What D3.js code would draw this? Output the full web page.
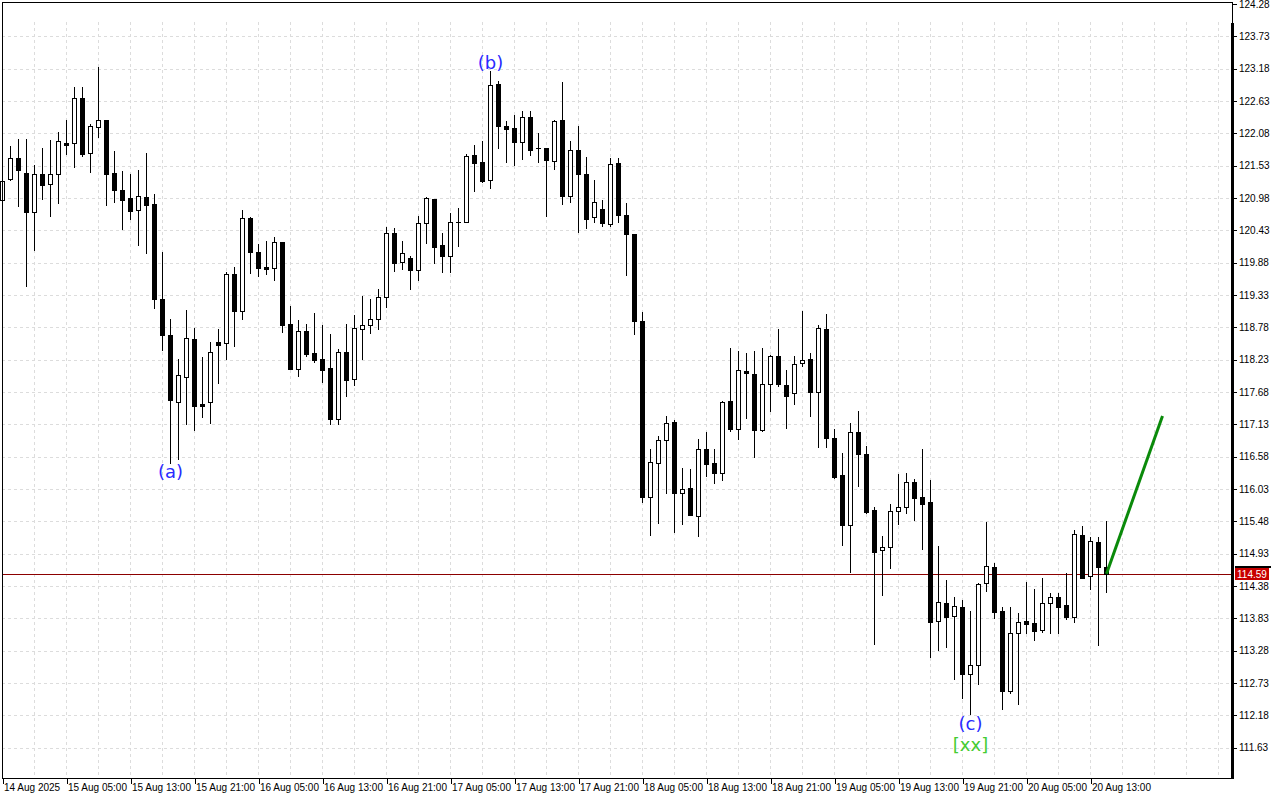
<!DOCTYPE html>
<html><head><meta charset="utf-8">
<script src="https://cdn.jsdelivr.net/npm/d3@7"></script>
<style>
html,body{margin:0;padding:0;background:#fff;}
svg{display:block;}
text{font-family:"Liberation Sans",Arial,sans-serif;}
</style>
</head><body>
<svg id="chart" width="1280" height="800"></svg>
<script>
// ---- data (1H bars) ----
const opens = [120.95,121.30,121.66,121.41,120.74,121.39,121.22,121.39,121.92,121.92,
122.68,121.75,122.19,122.31,121.41,121.12,120.98,120.78,121.00,120.88,
119.26,118.65,117.51,117.94,118.58,117.48,117.51,118.53,118.51,119.69,
119.06,120.64,120.06,119.80,119.79,120.23,118.84,118.07,118.72,118.34,
118.24,118.09,117.22,118.36,117.90,118.75,118.82,118.92,119.30,120.38,
119.89,119.96,119.76,120.55,120.96,120.18,120.00,120.57,120.57,121.71,
121.59,121.29,122.92,122.20,122.17,121.93,122.36,121.83,121.83,121.61,
122.31,121.01,121.80,121.39,120.66,120.79,120.54,121.58,120.69,120.37,
118.89,115.89,116.47,116.86,117.17,115.96,116.05,115.57,116.71,116.47,
116.30,117.53,117.05,118.04,117.99,117.03,117.82,118.29,117.80,117.66,
118.17,118.24,117.68,118.75,116.90,116.27,115.42,117.00,116.62,115.67,
114.99,115.04,115.66,115.72,116.15,115.89,115.81,113.78,114.09,113.87,
114.02,112.88,113.04,114.43,114.70,113.95,112.59,113.58,113.78,113.75,
113.63,114.09,114.19,114.06,113.85,115.25,114.55,115.13,114.70];
const highs = [121.37,121.87,121.98,121.98,121.54,121.83,121.97,122.10,122.31,122.87,
122.87,122.24,123.21,122.31,121.78,121.44,121.39,121.46,121.75,121.05,
120.06,118.92,118.24,119.08,118.77,118.27,118.53,118.75,119.72,119.80,
120.78,120.66,120.20,120.25,120.32,120.23,119.14,118.90,118.84,119.02,
118.82,118.67,118.41,118.84,118.99,119.31,119.26,119.43,120.49,120.47,
120.25,120.00,120.67,121.00,120.96,120.38,120.72,120.81,121.73,121.88,
121.95,123.14,122.97,122.29,122.39,122.46,122.46,122.09,121.83,122.31,
122.95,121.95,122.20,121.68,121.29,120.95,121.66,121.66,120.89,120.37,
119.04,116.71,116.93,117.27,117.20,116.39,116.37,116.88,117.00,116.71,
117.53,118.43,118.38,118.34,118.38,118.43,118.31,118.75,118.05,118.29,
119.06,118.34,118.82,119.01,117.05,116.64,117.15,117.36,116.76,115.72,
115.23,115.78,116.29,116.30,116.20,116.71,116.18,115.06,114.48,114.19,
114.14,113.95,114.43,115.47,114.77,114.02,114.02,113.92,114.45,114.33,
114.52,114.26,114.26,114.60,115.33,115.40,115.21,115.21,115.49];
const lows = [120.91,121.29,120.84,119.48,120.10,120.96,120.67,120.90,121.73,121.51,
121.70,121.42,122.02,120.86,120.91,120.45,120.62,120.18,120.05,119.11,
118.40,116.47,116.54,117.14,117.03,117.26,117.15,117.83,118.24,118.46,
118.92,119.70,119.65,119.69,119.59,118.70,118.07,117.95,118.29,118.19,
117.85,117.14,117.14,117.61,117.80,118.24,118.68,118.75,119.13,119.74,
119.77,119.43,119.59,120.22,119.87,119.72,119.72,120.16,120.57,121.10,
121.25,121.15,121.83,121.59,121.54,121.64,121.71,121.59,120.67,121.47,
120.88,120.91,120.40,120.47,120.57,120.50,120.50,120.57,119.67,118.67,
115.81,115.25,115.45,115.96,115.30,115.43,115.59,115.23,116.25,116.13,
116.18,117.02,116.88,117.24,116.57,117.02,117.36,117.78,117.07,117.48,
118.12,117.27,116.74,116.74,116.22,115.08,114.62,116.08,115.62,113.39,
114.23,114.69,115.43,115.62,115.50,115.01,113.17,113.29,113.34,112.80,
112.48,112.20,112.71,114.30,113.84,112.29,112.56,112.37,113.58,113.46,
113.60,113.58,113.58,113.82,113.77,114.52,114.33,113.38,114.28];
const closes = [121.27,121.66,121.46,120.74,121.39,121.20,121.39,121.95,121.88,122.68,
121.73,122.21,122.31,121.39,121.12,120.95,120.76,121.01,120.86,119.26,
118.65,117.54,117.97,118.60,117.44,117.44,118.36,118.48,119.69,119.06,
120.64,120.06,119.79,119.77,120.23,118.82,118.07,118.72,118.33,118.22,
118.05,117.22,118.36,117.88,118.77,118.82,118.92,119.30,120.38,119.87,
120.05,119.76,120.55,120.98,120.15,120.00,120.57,120.57,121.70,121.58,
121.27,122.90,122.20,122.15,121.93,122.36,121.80,121.83,121.63,122.29,
121.01,121.80,121.39,120.62,120.91,120.55,121.56,120.69,120.37,118.89,
115.89,116.49,116.86,117.15,115.96,116.03,115.59,116.71,116.45,116.30,
117.51,117.05,118.05,118.00,117.03,117.82,118.29,117.82,117.61,118.16,
118.22,117.68,118.77,116.90,116.23,115.42,117.00,116.62,115.64,114.96,
115.04,115.66,115.72,116.15,115.88,115.77,113.77,114.11,113.85,114.04,
112.88,113.04,114.41,114.72,113.94,112.59,113.58,113.77,113.73,113.61,
114.09,114.19,114.02,113.85,115.27,114.52,115.15,114.70,114.59];

const timeLabels = ["14 Aug 2025","15 Aug 05:00","15 Aug 13:00","15 Aug 21:00","16 Aug 05:00",
"16 Aug 13:00","16 Aug 21:00","17 Aug 05:00","17 Aug 13:00","17 Aug 21:00","18 Aug 05:00",
"18 Aug 13:00","18 Aug 21:00","19 Aug 05:00","19 Aug 13:00","19 Aug 21:00","20 Aug 05:00","20 Aug 13:00"];
const timeLabelBars = [0,8,16,24,32,40,48,56,64,72,80,88,96,104,112,120,128,136];
const priceTicks = [124.28,123.73,123.18,122.63,122.08,121.53,120.98,120.43,119.88,119.33,
118.78,118.23,117.68,117.13,116.58,116.03,115.48,114.93,114.38,113.83,113.28,112.73,112.18,111.63];
const lastPrice = 114.59;

// wave annotations: label, bar index, price level
const waveText  = ["(a)","(b)","(c)","[xx]"];
const waveBar   = [21, 61, 121, 121];
const wavePrice = [116.33, 123.29, 112.05, 111.69];

// forecast arrow: from bar/price to bar/price
const forecastBars   = [138, 145];
const forecastPrices = [114.59, 117.27];

// ---- layout ----
const svg = d3.select("#chart");
const plotL = 2, plotR = 1232, plotT = 2, plotB = 778;
const x = d3.scaleLinear().domain([0, 153]).range([2.5, 2.5 + 8*153]);
const y = d3.scaleLinear().domain([111.63, 124.28]).range([747.7, 4]);
const Y = p => Math.round(y(p));

svg.append("rect").attr("width",1280).attr("height",800).attr("fill","#fff");

// grid
const grid = svg.append("g").attr("shape-rendering","crispEdges");
grid.selectAll("line.h").data(priceTicks.slice(1)).join("line")
  .attr("x1", plotL).attr("x2", plotR)
  .attr("y1", d => Y(d)+0.5).attr("y2", d => Y(d)+0.5)
  .attr("stroke","#dcdcdc").attr("stroke-dasharray","3,3");
const vBars = d3.range(4, 154, 4);
grid.selectAll("line.v").data(vBars).join("line")
  .attr("x1", d => x(d)).attr("x2", d => x(d))
  .attr("y1", 22).attr("y2", plotB)
  .attr("stroke","#dcdcdc").attr("stroke-dasharray","3,3");

// current price line
svg.append("line").attr("x1",plotL).attr("x2",plotR)
  .attr("y1",Y(lastPrice)+0.5).attr("y2",Y(lastPrice)+0.5)
  .attr("stroke","#8c0000").attr("stroke-width",1).attr("shape-rendering","crispEdges");

// candles
const bars = d3.range(opens.length).map(i => ({i, o:opens[i], h:highs[i], l:lows[i], c:closes[i]}));
const cg = svg.append("g").attr("shape-rendering","crispEdges");
const cand = cg.selectAll("g").data(bars).join("g");
cand.append("line")
  .attr("x1", d => x(d.i)).attr("x2", d => x(d.i))
  .attr("y1", d => Y(d.h)).attr("y2", d => Y(d.l)+1)
  .attr("stroke","#000");
cand.each(function(d){
  const g = d3.select(this);
  const yo = Y(d.o), yc = Y(d.c);
  if (yo === yc) {
    g.append("line").attr("x1", x(d.i)-2.5).attr("x2", x(d.i)+2.5)
      .attr("y1", yo+0.5).attr("y2", yo+0.5).attr("stroke","#000");
  } else if (d.c > d.o) {
    g.append("rect").attr("x", x(d.i)-2).attr("width",4)
      .attr("y", yc+0.5).attr("height", yo-yc)
      .attr("fill","#fff").attr("stroke","#000");
  } else {
    g.append("rect").attr("x", x(d.i)-2.5).attr("width",5)
      .attr("y", yo).attr("height", yc-yo+1)
      .attr("fill","#000");
  }
});

// forecast line
svg.append("line")
  .attr("x1", x(forecastBars[0])).attr("y1", y(forecastPrices[0]))
  .attr("x2", x(forecastBars[1])).attr("y2", y(forecastPrices[1]))
  .attr("stroke","#0a8a0a").attr("stroke-width",3);

// wave labels
const waveColors = ["#2a2aff","#2a2aff","#2a2aff","#44cc33"];
svg.selectAll("text.wave").data(waveText).join("text")
  .attr("x", (d,k) => x(waveBar[k]))
  .attr("y", (d,k) => y(wavePrice[k]))
  .attr("text-anchor","middle").attr("dominant-baseline","central")
  .attr("font-size",18).attr("fill",(d,k)=>waveColors[k])
  .style("font-family","Tahoma,'DejaVu Sans',sans-serif")
  .text(d => d);

// frame
const fr = svg.append("g").attr("shape-rendering","crispEdges");
fr.append("line").attr("x1",plotL+0.5).attr("x2",plotL+0.5).attr("y1",plotT).attr("y2",plotB).attr("stroke","#000");
fr.append("line").attr("x1",plotL).attr("x2",plotR).attr("y1",plotT+0.5).attr("y2",plotT+0.5).attr("stroke","#000");
fr.append("line").attr("x1",plotL).attr("x2",plotR+1).attr("y1",plotB+0.5).attr("y2",plotB+0.5).attr("stroke","#000");
fr.append("line").attr("x1",plotR+0.5).attr("x2",plotR+0.5).attr("y1",plotT).attr("y2",23).attr("stroke","#000");
fr.append("rect").attr("x",plotR-1).attr("y",23).attr("width",3).attr("height",plotB-23+1).attr("fill","#000");

// right price axis
const yAxis = d3.axisRight(y).tickValues(priceTicks).tickSize(4).tickPadding(2)
  .tickFormat(d => d.toFixed(2));
const ya = svg.append("g").attr("transform",`translate(${plotR+1},0)`).call(yAxis);
ya.select(".domain").remove();
ya.selectAll(".tick line").attr("stroke","#000").attr("shape-rendering","crispEdges");
ya.selectAll(".tick text").attr("fill","#000").attr("font-size",10)
  .style("font-family","'Liberation Sans',Arial,sans-serif");

// current price badge
const yp = Y(lastPrice);
svg.append("rect").attr("x",plotR+3).attr("y",yp-8).attr("width",36).attr("height",2).attr("fill","#000");
svg.append("rect").attr("x",plotR+3).attr("y",yp-6).attr("width",34).attr("height",12).attr("fill","#c80000");
svg.append("text").attr("x",plotR+5).attr("y",yp).attr("dominant-baseline","central")
  .attr("font-size",10).attr("fill","#fff").text(lastPrice.toFixed(2));

// bottom time axis
const xAxis = d3.axisBottom(x).tickValues(timeLabelBars).tickSize(6).tickPadding(3)
  .tickFormat((d,k) => timeLabels[k]);
const xa = svg.append("g").attr("transform",`translate(0,${plotB})`).call(xAxis);
xa.select(".domain").remove();
xa.selectAll(".tick line").attr("stroke","#000").attr("shape-rendering","crispEdges");
xa.selectAll(".tick text").attr("fill","#000").attr("font-size",10)
  .attr("text-anchor","start").attr("dx",1).attr("y",6)
  .style("font-family","'Liberation Sans',Arial,sans-serif");
</script>
</body></html>
